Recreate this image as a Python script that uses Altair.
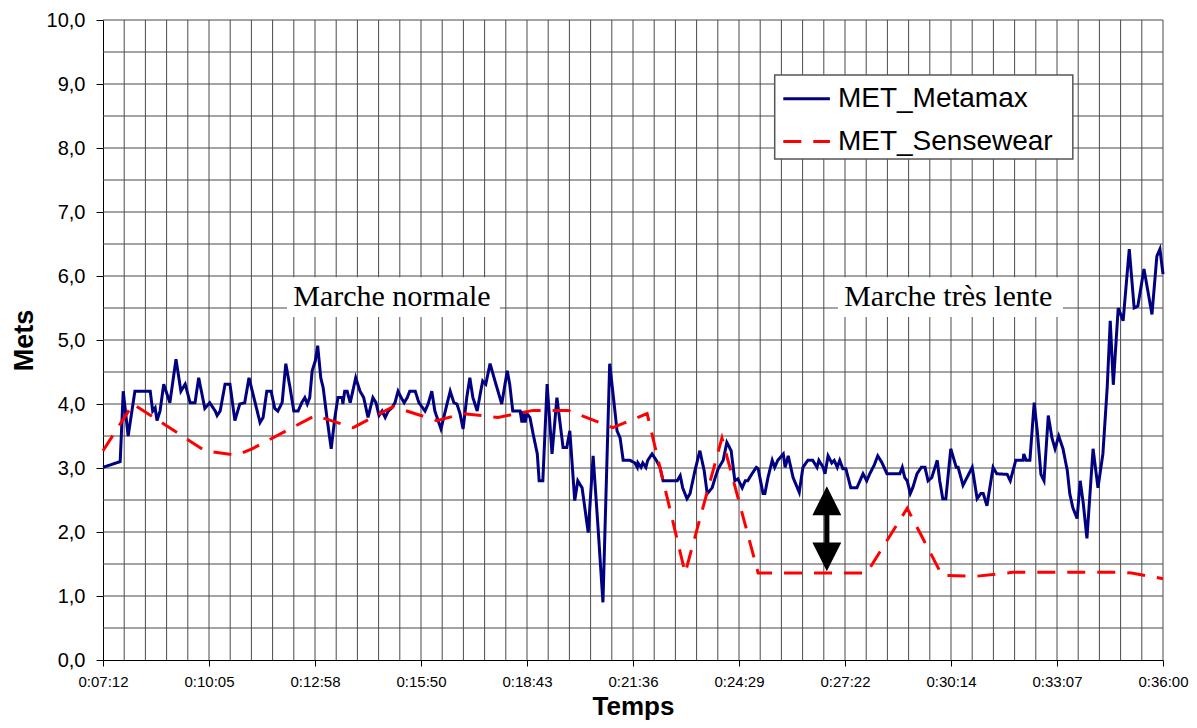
import json
import altair as alt
import pandas as pd

# ---------------- data (time in seconds, values in METs) ----------------
MM_T = [432, 460, 465, 473, 484, 509, 513, 517, 520, 525, 531, 541, 551, 559, 566, 574, 582, 588, 598, 606,
        615, 618, 623, 631, 639, 647, 655, 663, 670, 680, 688, 693, 699, 706, 712, 717, 724, 730, 737, 743,
        750, 756, 761, 765, 769, 773, 778, 782, 787, 791, 797, 804, 810, 815, 822, 823, 826, 830, 835, 844,
        851, 857, 864, 872, 877, 882, 887, 892, 897, 903, 908, 913, 918, 923, 928, 932, 941, 947, 957, 962,
        968, 973, 983, 990, 998, 1004, 1009, 1014, 1019, 1025, 1030, 1035, 1042, 1047, 1051, 1056, 1063, 1071, 1082, 1091,
        1095, 1100, 1112, 1115, 1117, 1120, 1123, 1128, 1133, 1140, 1143, 1149, 1156, 1164, 1172, 1182, 1188, 1193, 1201, 1206,
        1213, 1223, 1231, 1239, 1247, 1258, 1263, 1270, 1275, 1280, 1291, 1299, 1303, 1304, 1309, 1312, 1317, 1320, 1327, 1334,
        1340, 1345, 1368, 1373, 1377, 1384, 1389, 1397, 1405, 1412, 1417, 1425, 1430, 1435, 1443, 1449, 1456, 1462, 1467, 1474,
        1479, 1483, 1490, 1497, 1500, 1508, 1511, 1516, 1523, 1527, 1532, 1541, 1544, 1549, 1557, 1567, 1573, 1581, 1589, 1596,
        1599, 1606, 1609, 1614, 1620, 1624, 1629, 1633, 1638, 1643, 1651, 1661, 1666, 1671, 1677, 1682, 1689, 1695, 1702, 1710,
        1731, 1735, 1739, 1743, 1748, 1752, 1759, 1766, 1772, 1777, 1783, 1792, 1796, 1801, 1806, 1814, 1823, 1826, 1834, 1849,
        1857, 1863, 1867, 1873, 1883, 1889, 1906, 1911, 1920, 1932, 1933, 1937, 1943, 1950, 1955, 1961, 1966, 1973, 1979, 1984,
        1990, 1997, 2004, 2008, 2013, 2020, 2025, 2030, 2036, 2046, 2054, 2062, 2069, 2074, 2079, 2087, 2095, 2105, 2113, 2119,
        2129, 2142, 2150, 2155, 2160]
MM_V = [3.01, 3.10, 4.20, 3.50, 4.20, 4.20, 3.89, 3.94, 3.74, 3.89, 4.31, 4.02, 4.70, 4.20, 4.31, 4.02, 4.02, 4.41, 3.93, 4.02,
        3.89, 3.82, 3.89, 4.31, 4.31, 3.74, 4.00, 4.02, 4.41, 4.02, 3.71, 3.79, 4.20, 4.20, 3.93, 3.89, 4.02, 4.63, 4.25, 3.89,
        3.89, 4.02, 4.10, 4.00, 4.10, 4.52, 4.67, 4.91, 4.41, 4.25, 3.79, 3.30, 3.79, 4.10, 4.10, 4.00, 4.20, 4.20, 4.02, 4.41,
        4.20, 4.10, 3.79, 4.10, 4.02, 3.82, 3.89, 3.79, 3.89, 3.94, 4.02, 4.20, 4.10, 4.02, 4.10, 4.20, 4.20, 4.02, 3.89, 4.00,
        4.20, 3.89, 3.61, 3.89, 4.20, 4.02, 4.00, 3.85, 3.61, 4.10, 4.41, 4.10, 3.89, 4.16, 4.36, 4.31, 4.63, 4.36, 4.00, 4.52,
        4.31, 3.89, 3.89, 3.71, 3.89, 3.71, 3.85, 3.79, 3.54, 3.22, 2.80, 2.80, 4.31, 3.22, 4.10, 3.32, 3.32, 3.58, 2.49, 2.80,
        2.69, 1.99, 3.19, 2.07, 0.90, 4.63, 4.20, 3.58, 3.47, 3.12, 3.12, 3.08, 3.01, 3.08, 3.01, 3.08, 3.01, 3.12, 3.22, 3.12,
        3.01, 2.80, 2.80, 2.88, 2.69, 2.52, 2.60, 2.96, 3.27, 2.96, 2.60, 2.69, 2.85, 2.99, 3.12, 3.40, 3.27, 2.80, 2.83, 2.69,
        2.80, 2.80, 2.91, 3.01, 2.99, 2.60, 2.60, 2.85, 3.12, 3.01, 3.12, 3.22, 3.01, 3.19, 2.85, 2.62, 3.01, 3.12, 3.12, 3.01,
        3.12, 3.01, 2.91, 3.19, 3.08, 3.12, 3.01, 3.12, 2.99, 2.99, 2.69, 2.69, 2.80, 2.91, 2.80, 2.91, 3.04, 3.19, 3.08, 2.91,
        2.91, 3.01, 2.85, 2.80, 2.60, 2.69, 2.91, 3.01, 3.01, 2.80, 2.85, 3.12, 2.80, 2.52, 2.52, 3.30, 3.01, 3.01, 2.73, 3.01,
        2.52, 2.60, 2.60, 2.41, 3.01, 2.91, 2.90, 2.80, 3.12, 3.12, 3.22, 3.12, 3.12, 4.02, 3.58, 2.90, 2.80, 3.82, 3.47, 3.30,
        3.50, 3.30, 2.96, 2.60, 2.38, 2.21, 2.80, 2.45, 1.90, 3.30, 2.69, 3.22, 4.25, 5.30, 4.30, 5.50, 5.30, 6.42, 5.50, 5.53,
        6.11, 5.40, 6.31, 6.42, 6.03]

SW_T = [432, 481, 598, 650, 675, 778, 840, 905, 976, 1019, 1076, 1133, 1190, 1263, 1319, 1381, 1441, 1500, 1677, 1743,
        1800, 1857, 1915, 2085, 2109, 2160]
SW_V = [3.27, 4.00, 3.27, 3.20, 3.30, 3.82, 3.63, 3.96, 3.74, 3.85, 3.79, 3.90, 3.90, 3.63, 3.85, 1.36, 3.47, 1.36, 1.36, 2.37,
        1.32, 1.31, 1.37, 1.37, 1.36, 1.27]

SERIES = ["MET_Metamax", "MET_Sensewear"]
COLORS = ["#000080", "#FF0000"]
DASHES = [[1, 0], [18, 12]]

X_TICK_LABELS = ["0:07:12", "0:10:05", "0:12:58", "0:15:50", "0:18:43", "0:21:36",
                 "0:24:29", "0:27:22", "0:30:14", "0:33:07", "0:36:00"]
T_START, T_END = 432, 2160
T_MAJOR = 172.8
T_MINOR = 34.56
Y_MAX = 10

ANNOT_TEXT = ["Marche normale", "Marche très lente"]
ANNOT_T = [903, 1810]
ANNOT_V = [5.67, 5.67]
BOX_T1 = [732, 1630]
BOX_T2 = [1079, 1997]
BOX_V1 = [5.36, 5.36]
BOX_V2 = [5.98, 5.98]

ARROW_T = [1612]
ARROW_V = [2.05]

# legend drawn in the plot's own units (inside the plot area, top right)
LEG_BOX_T = [1527, 2013]
LEG_BOX_V = [7.83, 9.14]
LEG_SYM_T = [1541, 1617]
LEG_ROW_V = [8.77, 8.10]
LEG_LABEL_T = 1630

# ---------------- tables ----------------
lines_df = pd.concat([
    pd.DataFrame({"t": MM_T, "v": MM_V, "serie": SERIES[0]}),
    pd.DataFrame({"t": SW_T, "v": SW_V, "serie": SERIES[1]}),
], ignore_index=True)

vgrid_df = pd.DataFrame({"t": [T_START + T_MINOR * k for k in range(1, 51)]})
hgrid_df = pd.DataFrame({"v": [0.5 * k for k in range(1, 21)]})
annot_df = pd.DataFrame({"text": ANNOT_TEXT, "t": ANNOT_T, "v": ANNOT_V,
                         "t1": BOX_T1, "t2": BOX_T2, "v1": BOX_V1, "v2": BOX_V2})
arrow_df = pd.DataFrame({"t": ARROW_T, "v": ARROW_V})
legbox_df = pd.DataFrame({"t1": [LEG_BOX_T[0]], "t2": [LEG_BOX_T[1]],
                          "v1": [LEG_BOX_V[0]], "v2": [LEG_BOX_V[1]]})
legrow_df = pd.DataFrame({"serie": SERIES, "t1": [LEG_SYM_T[0]] * 2, "t2": [LEG_SYM_T[1]] * 2,
                          "v": LEG_ROW_V, "tl": [LEG_LABEL_T] * 2})

FONT = "Liberation Sans"

x_scale = alt.Scale(domain=[T_START, T_END], nice=False, zero=False)
y_scale = alt.Scale(domain=[0, Y_MAX], nice=False, zero=True)
color_scale = alt.Scale(domain=SERIES, range=COLORS)
dash_scale = alt.Scale(domain=SERIES, range=DASHES)

x_axis = alt.Axis(
    values=[T_START + T_MAJOR * i for i in range(11)],
    labelExpr=f"{json.dumps(X_TICK_LABELS)}[round((datum.value - {T_START}) / {T_MAJOR})]",
    grid=False, tickSize=6, tickColor="black", domainColor="black", domainWidth=1,
    labelFont=FONT, labelFontSize=15, labelColor="black", labelPadding=8,
    labelFlush=False, labelOverlap=False, labelBound=False,
    title="Temps", titleFont=FONT, titleFontSize=26, titleFontWeight="bold", titleColor="black",
    titleX=530, titleY=46, titleAlign="center", titleBaseline="middle",
)
y_axis = alt.Axis(
    values=list(range(0, Y_MAX + 1)),
    labelExpr="replace(format(datum.value, '.1f'), '.', ',')",
    grid=False, tickSize=7, tickColor="black", domainColor="black", domainWidth=1,
    labelFont=FONT, labelFontSize=20, labelColor="black", labelPadding=11,
    title="Mets", titleFont=FONT, titleFontSize=27, titleFontWeight="bold", titleColor="black",
    titleX=-79, titleY=320, titleAlign="center", titleBaseline="middle", titleAngle=270,
)


def X(field="t"):
    return alt.X(f"{field}:Q", scale=x_scale, axis=x_axis)


def Y(field="v"):
    return alt.Y(f"{field}:Q", scale=y_scale, axis=y_axis)


GRID_COLOR = "#4a4a4a"

vgrid = alt.Chart(vgrid_df).mark_rule(color=GRID_COLOR, strokeWidth=1).encode(x=X())
hgrid = alt.Chart(hgrid_df).mark_rule(color=GRID_COLOR, strokeWidth=1).encode(y=Y())

boxes = alt.Chart(annot_df).mark_rect(color="white", opacity=1).encode(
    x=X("t1"), x2="t2", y=Y("v1"), y2="v2")
texts = alt.Chart(annot_df).mark_text(
    font="Liberation Serif", fontSize=30, color="black", align="center", baseline="middle"
).encode(x=X(), y=Y(), text="text:N")

lines = alt.Chart(lines_df).mark_line(strokeWidth=3, strokeCap="butt").encode(
    x=X(), y=Y(),
    color=alt.Color("serie:N", scale=color_scale, legend=None),
    strokeDash=alt.StrokeDash("serie:N", scale=dash_scale, legend=None),
)

ARROW_PATH = ("M0,-1L0.34,-0.32L0.06,-0.32L0.06,0.32L0.34,0.32L0,1"
              "L-0.34,0.32L-0.06,0.32L-0.06,-0.32L-0.34,-0.32Z")
arrow = alt.Chart(arrow_df).mark_point(
    shape=ARROW_PATH, size=7225, filled=True, color="black", opacity=1, strokeWidth=0
).encode(x=X(), y=Y())

# legend
leg_box = alt.Chart(legbox_df).mark_rect(fill="white", stroke="#555555", strokeWidth=1.5).encode(
    x=X("t1"), x2="t2", y=Y("v1"), y2="v2")
leg_sym = alt.Chart(legrow_df).mark_rule(strokeWidth=3, strokeCap="butt").encode(
    x=X("t1"), x2="t2", y=Y(),
    color=alt.Color("serie:N", scale=color_scale, legend=None),
    strokeDash=alt.StrokeDash("serie:N", scale=dash_scale, legend=None),
)
leg_txt = alt.Chart(legrow_df).mark_text(
    font=FONT, fontSize=28, color="black", align="left", baseline="middle"
).encode(x=X("tl"), y=Y(), text="serie:N")

chart = alt.layer(vgrid, hgrid, boxes, texts, lines, arrow, leg_box, leg_sym, leg_txt).properties(
    width=1060, height=640,
    padding={"left": 95, "top": 12, "right": 26, "bottom": 60},
    autosize=alt.AutoSizeParams(type="none"),
    background="white",
).configure_view(strokeWidth=0)

chart.save("out.html", embed_options={"renderer": "svg", "actions": False})
